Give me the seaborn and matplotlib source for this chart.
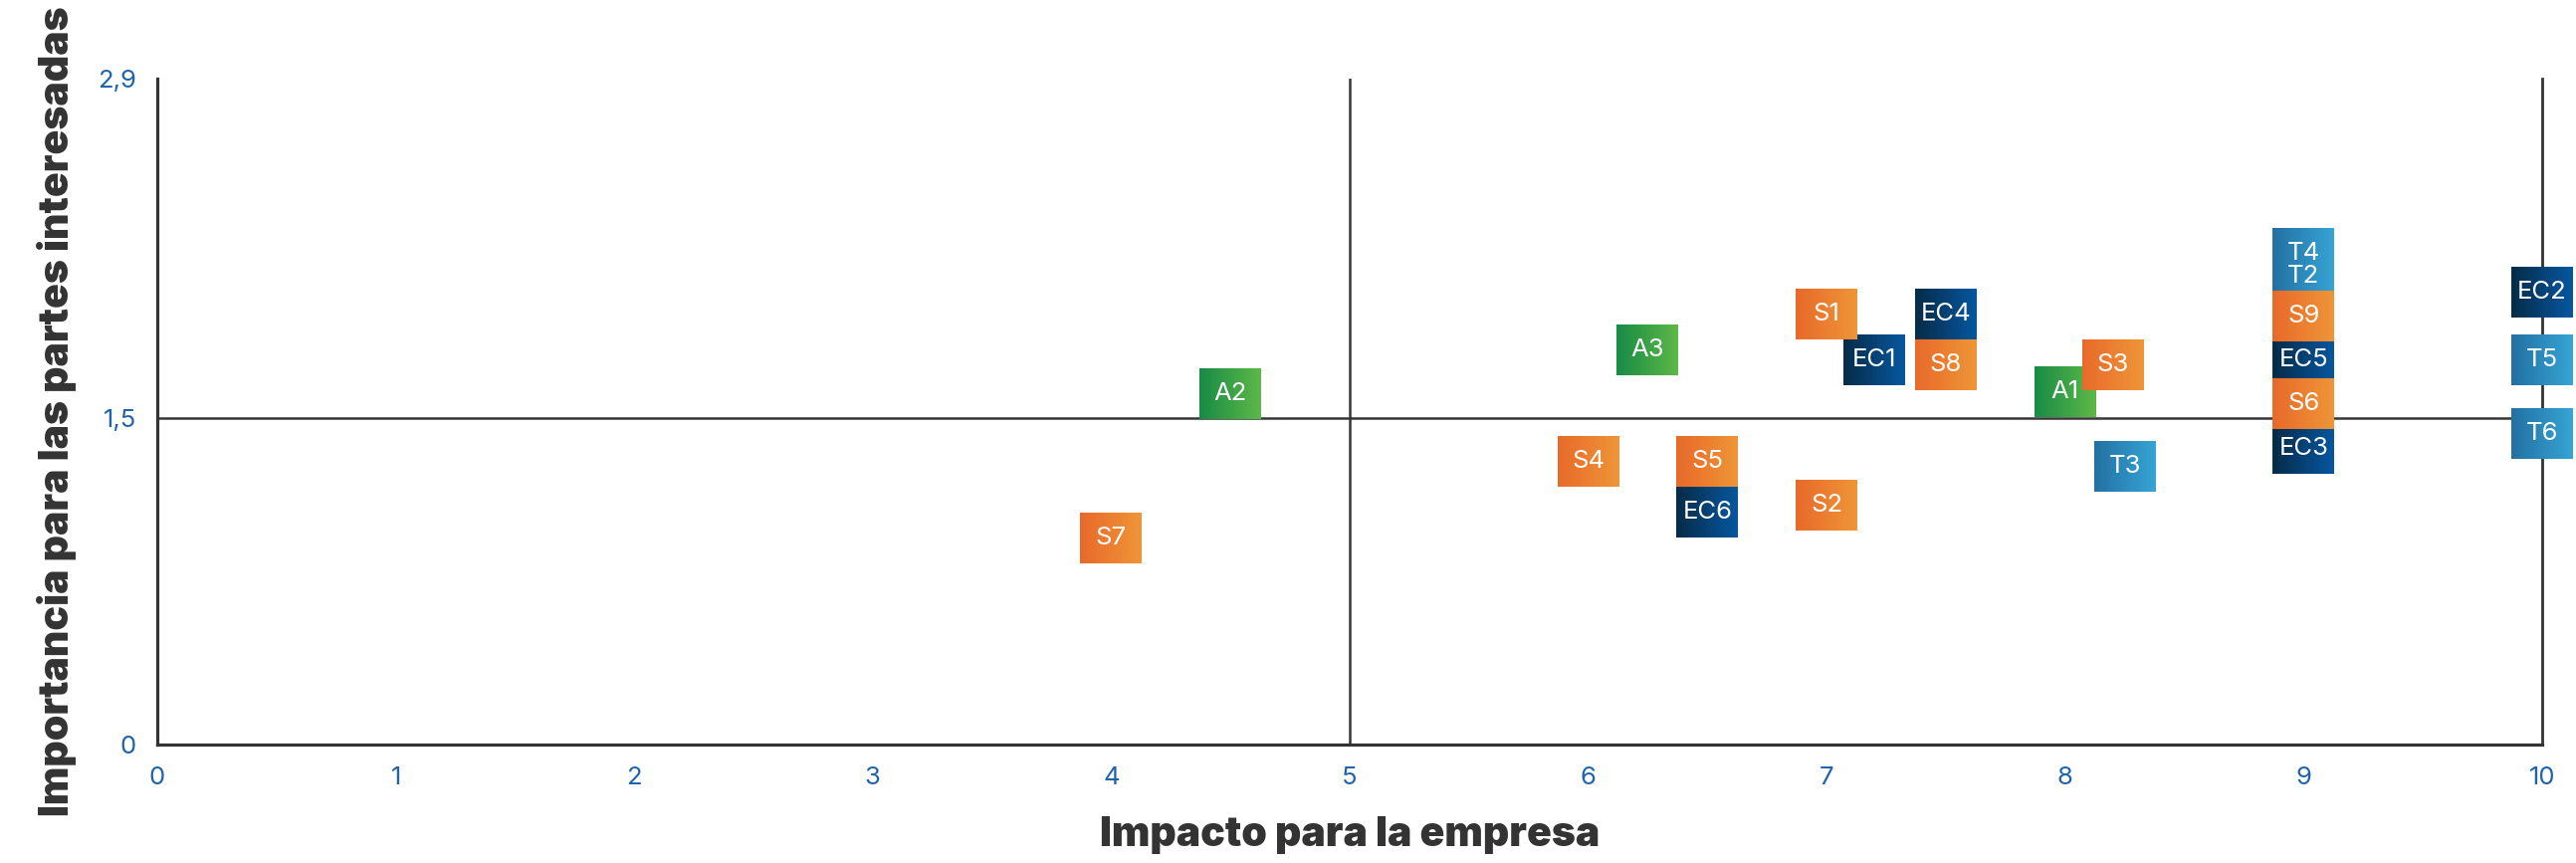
import numpy as np
import pandas as pd
import matplotlib
matplotlib.use("Agg")
import matplotlib.pyplot as plt
import seaborn as sns
from matplotlib.path import Path
from matplotlib.colors import to_rgb

# ---------------- data ----------------
labels = ["S7", "A2", "S4", "A3", "S5", "EC6", "S1", "S2", "EC1", "EC4", "S8",
          "A1", "S3", "T3", "T4", "T2", "S9", "EC5", "S6", "EC3", "EC2", "T5", "T6"]
impacto = [4.0, 4.5, 6.0, 6.25, 6.5, 6.5, 7.0, 7.0, 7.2, 7.5, 7.5,
           8.0, 8.2, 8.25, 9.0, 9.0, 9.0, 9.0, 9.0, 9.0, 10.0, 10.0, 10.0]
importancia = [0.95, 1.6, 1.3, 1.78, 1.3, 1.07, 1.93, 1.1, 1.74, 1.93, 1.72,
               1.61, 1.72, 1.28, 2.18, 2.085, 1.92, 1.74, 1.56, 1.36, 2.02, 1.74, 1.43]
grupo = ["S", "A", "S", "A", "S", "EC", "S", "S", "EC", "EC", "S",
         "A", "S", "T", "T", "T", "S", "EC", "S", "EC", "EC", "T", "T"]

x_ticks = [0, 1, 2, 3, 4, 5, 6, 7, 8, 9, 10]
x_tick_labels = ["0", "1", "2", "3", "4", "5", "6", "7", "8", "9", "10"]
y_ticks = [0, 1.5, 2.9]
y_tick_labels = ["0", "1,5", "2,9"]

x_label = "Impacto para la empresa"
y_label = "Importancia para las partes interesadas"

grupo_colores = {
    "S": ("#E8692A", "#EE9537"),
    "EC": ("#052B47", "#06579F"),
    "A": ("#178A45", "#5DB847"),
    "T": ("#2370A2", "#35A4D4"),
}
draw_order = ["EC", "A", "T", "S"]

df = pd.DataFrame({"label": labels, "x": impacto, "y": importancia, "grupo": grupo})

# ---------------- style ----------------
sns.set_theme(style="white")
plt.rcParams["font.family"] = ["Inter", "DejaVu Sans"]

fig = plt.figure(figsize=(25.88, 8.67), dpi=100)
ax = fig.add_axes([0.06105, 0.1373, 0.9258, 0.7716])

# two equal-height quadrants on the y axis (0-1.5 and 1.5-2.9)
K = 1.114


def fwd(v):
    v = np.asarray(v, dtype=float)
    return np.where(v <= 1.5, v, 1.5 + (v - 1.5) * K)


def inv(v):
    v = np.asarray(v, dtype=float)
    return np.where(v <= 1.5, v, 1.5 + (v - 1.5) / K)


ax.set_yscale("function", functions=(fwd, inv))
ax.set_xlim(0, 10)
ax.set_ylim(0, 2.9)

# quadrant lines
line_col = "#353535"
ax.axvline(5, color=line_col, lw=1.8, zorder=2)
ax.axhline(1.5, color=line_col, lw=1.8, zorder=2)

# gradient boxes built from thin vertical strips
N = 24
ASPECT = 51 / 62


def strip_marker(i):
    x0 = -1 + 2 * i / N
    x1 = min(1.0, -1 + 2 * (i + 1.6) / N)
    verts = [(1, 1), (x0, -ASPECT), (x1, -ASPECT), (x1, ASPECT), (x0, ASPECT), (x0, -ASPECT)]
    codes = [Path.MOVETO, Path.MOVETO, Path.LINETO, Path.LINETO, Path.LINETO, Path.CLOSEPOLY]
    return Path(verts, codes)


size_pt = 62 * 72 / 100
for gi, g in enumerate(draw_order):
    sub = df[df["grupo"] == g]
    c0 = np.array(to_rgb(grupo_colores[g][0]))
    c1 = np.array(to_rgb(grupo_colores[g][1]))
    for i in range(N):
        t = (i + 0.5) / N
        col = tuple(c0 * (1 - t) + c1 * t)
        sns.scatterplot(data=sub, x="x", y="y", marker=strip_marker(i),
                        s=size_pt ** 2, color=col, linewidth=0, edgecolor="none",
                        ax=ax, zorder=3 + gi + i / (2 * N), clip_on=False,
                        legend=False)

for _, r in df.iterrows():
    ax.text(r["x"], r["y"], r["label"], color="white", ha="center", va="center",
            fontsize=18.5, zorder=20, clip_on=False)

# spines
for side in ["left", "bottom"]:
    ax.spines[side].set_visible(True)
    ax.spines[side].set_color("#333333")
    ax.spines[side].set_linewidth(2.3)
ax.spines["right"].set_visible(True)
ax.spines["right"].set_color("#333333")
ax.spines["right"].set_linewidth(2.0)
ax.spines["top"].set_visible(False)

ax.set_xticks(x_ticks, x_tick_labels)
ax.set_yticks(y_ticks, y_tick_labels)
ax.minorticks_off()
ax.tick_params(axis="both", length=0, labelsize=18.5, labelcolor="#1F63AC")
ax.tick_params(axis="x", pad=16)
ax.tick_params(axis="y", pad=15)

title_font = dict(family=["Inter", "DejaVu Sans"], fontweight="black", fontsize=29.5, color="#333333")
ax.set_xlabel(x_label, **title_font)
ax.set_ylabel(y_label, **title_font)
ax.xaxis.set_label_coords(0.5, -0.108)
ax.yaxis.set_label_coords(-0.034, 0.5)

fig.savefig("out.png", dpi=100)
